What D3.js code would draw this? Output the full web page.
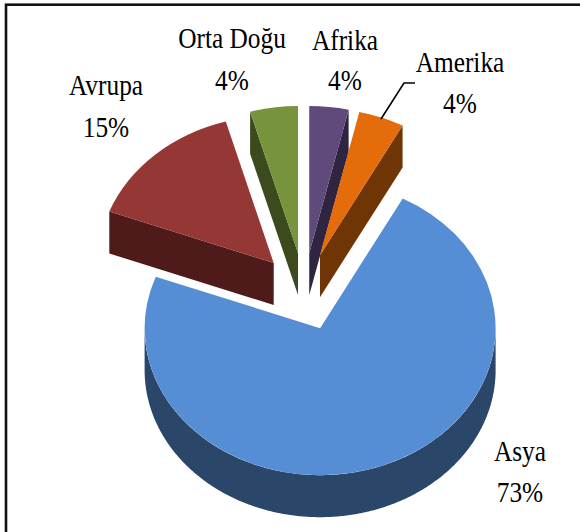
<!DOCTYPE html>
<html><head><meta charset="utf-8">
<style>html,body{margin:0;padding:0;background:#fff}svg{display:block}</style>
<script src="https://cdn.jsdelivr.net/npm/d3@7"></script></head>
<body><svg id="c" width="580" height="532"></svg>
<script>
const categories = ["Afrika","Amerika","Asya","Avrupa","Orta Doğu"];
const shares = [3.6,4.2,72.9,14.9,4.4];
const topColors = ["#604a7b","#e46c0a","#558ed5","#953735","#77933c"];
const sideColors = ["#2f2540","#703505","#2a4669","#4e1b1a","#3c4a1e"];
const labelAnchors = [[345,50,90],[460,72,113],[520,461,502],[106,95,137],[232,48,90]];

const W=580,H=532, cx=304.2, cy=291.7, rx=175.5, ry=147, depth=42, explodeX=45, explodeY=39;
const svg=d3.select("#c");
svg.append("rect").attr("x",6).attr("y",4.7).attr("width",W+10).attr("height",H+10)
   .attr("fill","#fff").attr("stroke","#111").attr("stroke-width",2.6);

const slices=d3.pie().sort(null).value(d=>d)(shares);
const arc=d3.arc().innerRadius(0).outerRadius(rx);
const pt=(a,o)=>[o[0]+rx*Math.sin(a),o[1]-ry*Math.cos(a)];
const origin=s=>{const m=(s.startAngle+s.endAngle)/2;return [cx+explodeX*Math.sin(m),cy-explodeY*Math.cos(m)];};
const line=d3.line();
const g=svg.append("g");
slices.forEach((s,i)=>{
  const o=origin(s), c=sideColors[i];
  const face=a=>{const p=pt(a,o);
    g.append("path").attr("d",line([o,p,[p[0],p[1]+depth],[o[0],o[1]+depth]])+"Z").attr("fill",c);};
  if(Math.sin(s.startAngle)<-1e-6) face(s.startAngle);
  if(Math.sin(s.endAngle)>1e-6) face(s.endAngle);
  const a0=Math.max(s.startAngle,Math.PI/2), a1=Math.min(s.endAngle,Math.PI*1.5);
  if(a1>a0){
    const as=d3.range(a0,a1,0.01).concat([a1]);
    const top=as.map(a=>pt(a,o)), bot=as.map(a=>{const p=pt(a,o);return [p[0],p[1]+depth];}).reverse();
    g.append("path").attr("d",line(top.concat(bot))+"Z").attr("fill",c);
  }
});
slices.forEach((s,i)=>{
  const o=origin(s);
  g.append("path").attr("d",arc(s))
   .attr("transform",`translate(${o[0]},${o[1]}) scale(1,${ry/rx})`)
   .attr("fill",topColors[i]);
});
const fmt=d3.format(".0f");
categories.forEach((n,i)=>{
  const [x,y1,y2]=labelAnchors[i];
  const t=svg.append("g").attr("font-family","'Liberation Serif',serif").attr("font-size",29.5)
     .attr("fill","#000").attr("text-anchor","middle");
  t.append("text").attr("transform",`translate(${x},${y1}) scale(0.86,1)`).text(n);
  t.append("text").attr("transform",`translate(${x},${y2}) scale(0.86,1)`).text(fmt(shares[i])+"%");
});
svg.append("path").attr("d","M381,119L404,83L415,83").attr("fill","none").attr("stroke","#000").attr("stroke-width",1.6);
</script></body></html>
